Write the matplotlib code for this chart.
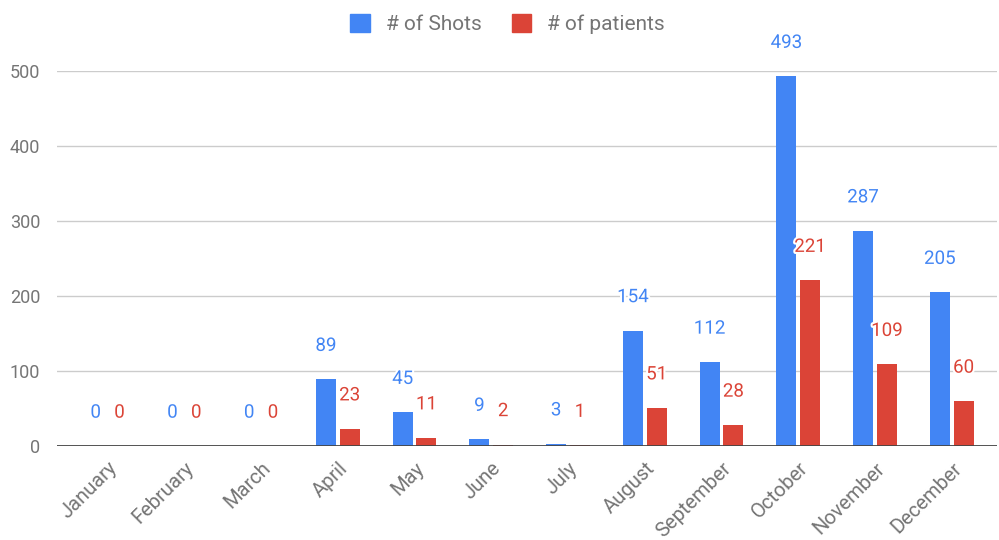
import matplotlib.pyplot as plt
import matplotlib.patheffects as pe
from matplotlib.patches import Patch
import numpy as np

months = ["January", "February", "March", "April", "May", "June", "July",
          "August", "September", "October", "November", "December"]
shots = [0, 0, 0, 89, 45, 9, 3, 154, 112, 493, 287, 205]
patients = [0, 0, 0, 23, 11, 2, 1, 51, 28, 221, 109, 60]

blue = "#4285F4"
red = "#DB4437"
gray = "#757575"

plt.rcParams['font.family'] = ['Roboto', 'DejaVu Sans']

fig = plt.figure(figsize=(9.99, 5.4), dpi=100)
ax = fig.add_axes([0.057, 1 - 446 / 540, 0.941, 375 / 540])

x = np.arange(len(months))
w = 0.26
off = 0.155
b1 = ax.bar(x - off, shots, w, color=blue, zorder=3)
b2 = ax.bar(x + off, patients, w, color=red, zorder=3)

# value labels with white halo like google charts
halo = [pe.withStroke(linewidth=3, foreground="white")]
for bars, vals, c in [(b1, shots, blue), (b2, patients, red)]:
    for b, v in zip(bars, vals):
        ax.annotate(str(v), (b.get_x() + b.get_width() / 2, v),
                    xytext=(0, 24), textcoords="offset points",
                    ha="center", va="center", fontsize=13.5, color=c,
                    path_effects=halo, clip_on=False, zorder=5)

ax.set_xlim(-0.66, 11.59)
ax.set_ylim(0, 500)
ax.set_yticks([0, 100, 200, 300, 400, 500])
ax.yaxis.grid(True, color="#cccccc", linewidth=1, zorder=0)
ax.axhline(0, color="#444444", linewidth=2, zorder=4)
for s in ax.spines.values():
    s.set_visible(False)

ax.set_xticks(x)
ax.set_xticklabels(months, rotation=45, ha="right", rotation_mode="anchor")
ax.tick_params(axis="both", length=0, labelcolor=gray)
ax.tick_params(axis="y", pad=12, labelsize=13)
ax.tick_params(axis="x", pad=9, labelsize=14.5)

handles = [Patch(color=blue, label="# of Shots"), Patch(color=red, label="# of patients")]
fig.legend(handles=handles, loc="center", bbox_to_anchor=(0.508, 1 - 24 / 540), ncol=2,
           frameon=False, fontsize=15, labelcolor=gray, handlelength=0.95,
           handleheight=0.95, columnspacing=1.45, handletextpad=0.75)

fig.savefig("out.png", dpi=100)
